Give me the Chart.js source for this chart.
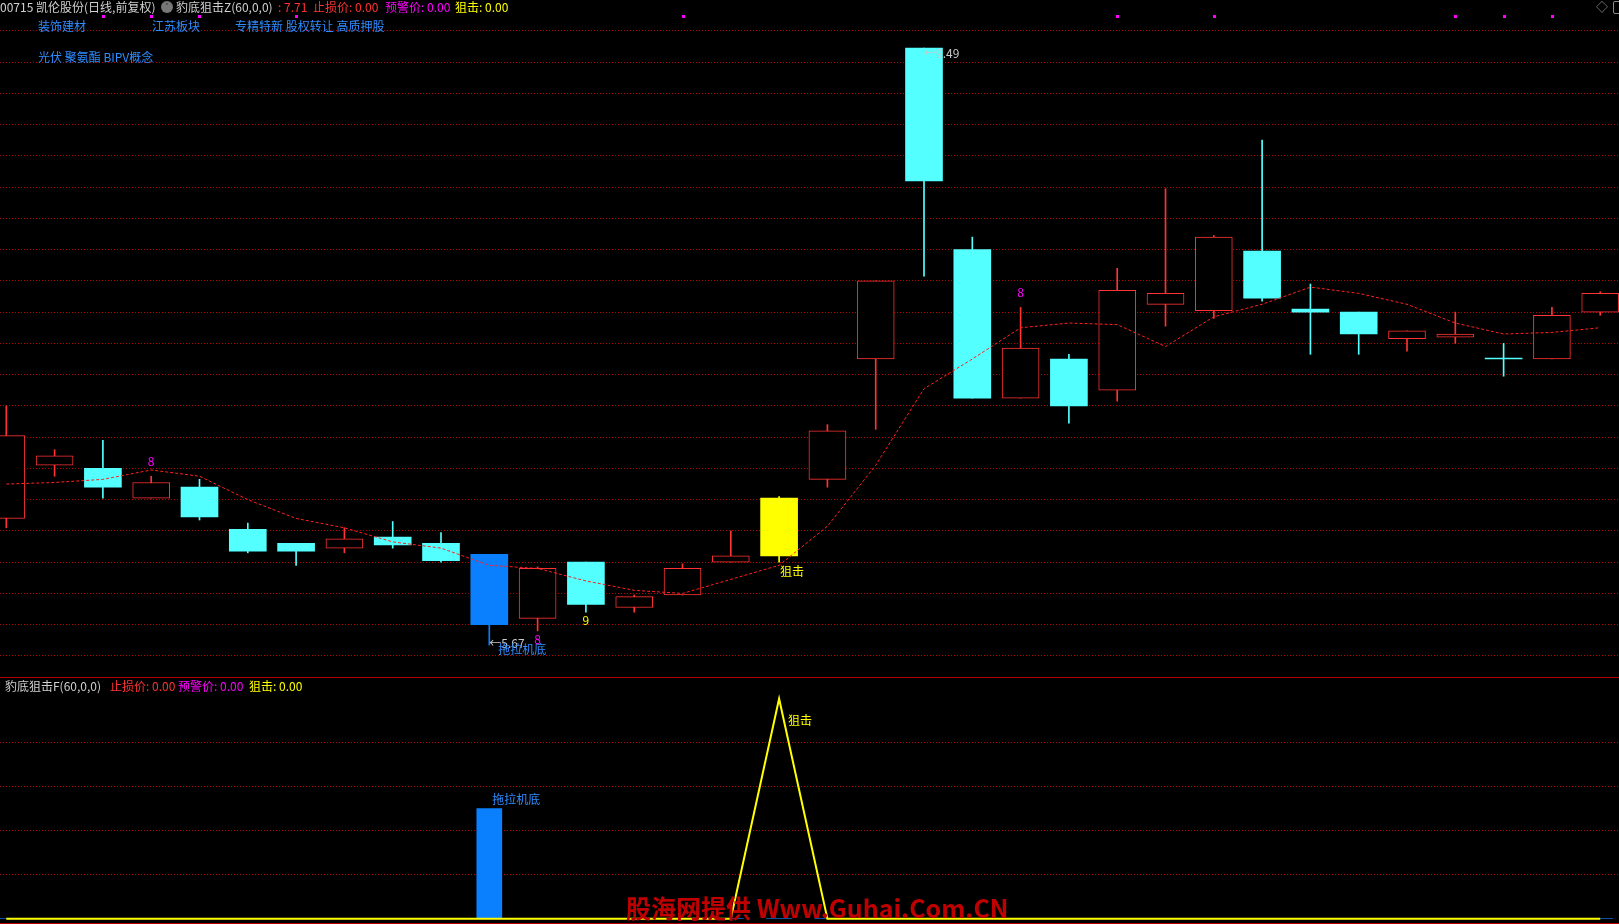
<!DOCTYPE html>
<html>
<head>
<meta charset="utf-8">
<title>凯伦股份 豹底狙击</title>
<script src="https://cdn.jsdelivr.net/npm/chart.js@4.4.0/dist/chart.umd.min.js"></script>
<style>
    html, body { margin: 0; padding: 0; background: #000; }
    body { width: 1619px; height: 924px; position: relative; overflow: hidden;
           font-family: "Noto Sans CJK SC", "Noto Sans", sans-serif; font-size: 12px; }
    canvas { position: absolute; left: 0; }
    #main { top: 0; }
    #sub { top: 679px; }
    .t { position: absolute; white-space: nowrap; line-height: 14px; }
    .sep { position: absolute; left: 0; width: 1619px; height: 1px; background: #b40000; }
    .grey { color: #d0d0d0; }
    .red { color: #ff3232; }
    .mag { color: #ff00ff; }
    .yel { color: #ffff00; }
    .blue { color: #2f8cff; }
</style>
</head>
<body>
<canvas id="main" width="1619" height="678"></canvas>
<canvas id="sub" width="1619" height="245"></canvas>
<div class="sep" style="top:677px"></div>
<div class="sep" style="top:923px"></div>

<!-- header of the price panel -->
<span class="t grey" style="left:0;top:0">00715 凯伦股份(日线,前复权)</span>
<span class="t" style="left:161px;top:1px;width:12px;height:12px;border-radius:6px;background:#777;color:#111;font-size:9px;line-height:12px;text-align:center">˅</span>
<span class="t grey" style="left:176px;top:0">豹底狙击Z(60,0,0)</span>
<span class="t red" style="left:278px;top:0">: 7.71</span>
<span class="t red" style="left:313px;top:0">止损价: 0.00</span>
<span class="t mag" style="left:385px;top:0">预警价: 0.00</span>
<span class="t yel" style="left:455px;top:0">狙击: 0.00</span>
<span class="t blue" style="left:38px;top:19px">装饰建材</span>
<span class="t blue" style="left:152px;top:19px">江苏板块</span>
<span class="t blue" style="left:235px;top:19px">专精特新 股权转让 高质押股</span>
<span class="t blue" style="left:38px;top:50px">光伏 聚氨酯 BIPV概念</span>
<span class="t" style="left:1596px;top:0;color:#8a8a8a">◇</span>
<span class="t" style="left:1613px;top:1px;width:10px;height:11px;border:1px solid #8a8a8a;border-radius:2px"></span>

<!-- header of the indicator panel -->
<span class="t grey" style="left:5px;top:679px">豹底狙击F(60,0,0)</span>
<span class="t red" style="left:110px;top:679px">止损价: 0.00</span>
<span class="t mag" style="left:178px;top:679px">预警价: 0.00</span>
<span class="t yel" style="left:249px;top:679px">狙击: 0.00</span>

<span class="t" style="left:626px;top:893px;color:#c00000;font-size:25px;line-height:28px;font-weight:bold">股海网提供 Www.Guhai.Com.CN</span>

<script>
// daily candles, oldest first
const opens  = [6.48, 6.82, 6.80, 6.61, 6.68, 6.41, 6.32, 6.29, 6.36, 6.32,
                6.25, 5.84, 6.20, 5.91, 5.99, 6.20, 6.24, 6.73, 7.50, 9.49,
                8.20, 7.25, 7.50, 7.30, 7.85, 7.81, 8.19, 7.82, 7.80, 7.63,
                7.64, 7.50, 7.50, 7.80];
const highs  = [7.20, 6.92, 6.98, 6.75, 6.73, 6.45, 6.32, 6.42, 6.46, 6.39,
                6.25, 6.17, 6.20, 5.99, 6.19, 6.40, 6.62, 7.08, 8.00, 9.49,
                8.28, 7.83, 7.53, 8.08, 8.59, 8.29, 8.90, 7.98, 7.80, 7.68,
                7.80, 7.60, 7.83, 7.93];
const lows   = [6.42, 6.75, 6.61, 6.61, 6.47, 6.26, 6.18, 6.26, 6.29, 6.20,
                5.67, 5.76, 5.88, 5.88, 5.99, 6.20, 6.20, 6.68, 7.05, 8.03,
                7.25, 7.25, 7.09, 7.23, 7.71, 7.76, 7.87, 7.53, 7.53, 7.55,
                7.60, 7.39, 7.50, 7.78];
const closes = [7.01, 6.88, 6.68, 6.71, 6.49, 6.27, 6.27, 6.35, 6.31, 6.21,
                5.80, 6.16, 5.93, 5.98, 6.16, 6.24, 6.61, 7.04, 8.00, 8.64,
                7.25, 7.57, 7.20, 7.94, 7.92, 8.28, 7.89, 7.80, 7.66, 7.68,
                7.66, 7.50, 7.78, 7.92];
// red dashed average line
const maLine = [6.70, 6.71, 6.73, 6.79, 6.75, 6.60, 6.48, 6.42, 6.33, 6.29,
                6.18, 6.16, 6.08, 6.02, 6.00, 6.09, 6.18, 6.43, 6.82, 7.31,
                7.50, 7.70, 7.73, 7.72, 7.58, 7.77, 7.85, 7.96, 7.92, 7.85,
                7.73, 7.66, 7.67, 7.70];
// price grid levels
const priceGrid = [5.6, 5.8, 6.0, 6.2, 6.4, 6.6, 6.8, 7.0, 7.2, 7.4, 7.6,
                   7.8, 8.0, 8.2, 8.4, 8.6, 8.8, 9.0, 9.2, 9.4, 9.6];

// signal days
const tractorDay = 10;   // 拖拉机底 (blue candle)
const snipeDay = 16;     // 狙击 (yellow candle)
const signalLabels = [
    { i: 3,  text: '8', kind: 'countUp' },
    { i: 21, text: '8', kind: 'countUp' },
    { i: 11, text: '8', kind: 'countDown' },
    { i: 12, text: '9', kind: 'nine' },
];
const eventDays = [2, 3, 4, 6, 14, 23, 25, 30, 31, 32];

// lower panel
const snipeLine = [0, 0, 0, 0, 0, 0, 0, 0, 0, 0, 0, 0, 0, 0, 0, 0, 100, 0, 0, 0,
                   0, 0, 0, 0, 0, 0, 0, 0, 0, 0, 0, 0, 0, 0];
const tractorBar = [0, 0, 0, 0, 0, 0, 0, 0, 0, 0, 50, 0, 0, 0, 0, 0, 0, 0, 0, 0,
                    0, 0, 0, 0, 0, 0, 0, 0, 0, 0, 0, 0, 0, 0];
const subGrid = [20, 40, 60, 80];

const RED = '#ff3333', CYAN = '#54ffff', BLUE = '#0a80ff', YELLOW = '#ffff00';
const GRID = '#b80000';
const FONT = '12px "Noto Sans CJK SC", sans-serif';

const idx = opens.map((_, i) => i);

// up day = hollow red, flat or down day = solid cyan
function candleColor(i) {
    if (i === tractorDay) return BLUE;
    if (i === snipeDay) return YELLOW;
    return closes[i] > opens[i] ? RED : CYAN;
}
const isHollow = i => i !== tractorDay && i !== snipeDay && closes[i] > opens[i];

// shared x axis: candle index, hidden, no bar offset
const xAxis = { type: 'linear', min: -0.1304, max: 33.389, offset: false, display: false };

function gridAxis(min, max, levels) {
    return {
        min: min, max: max,
        afterBuildTicks: s => { s.ticks = levels.map(v => ({ value: v })); },
        afterFit: s => { s.width = 0; },
        ticks: { display: false },
        grid: { color: GRID, lineWidth: 1, drawTicks: false },
        border: { display: false, dash: [1, 2] },
    };
}

// text marks drawn next to the candles
const priceMarks = {
    id: 'priceMarks',
    afterDatasetsDraw(chart) {
        const { ctx, scales: { x, y } } = chart;
        ctx.save();
        ctx.font = FONT;
        ctx.textBaseline = 'middle';

        // event squares along the top
        ctx.fillStyle = '#ff00ff';
        eventDays.forEach(i => {
            ctx.fillRect(Math.round(x.getPixelForValue(i)) - 1, 15, 3, 3);
        });

        ctx.textAlign = 'center';
        signalLabels.forEach(s => {
            const px = x.getPixelForValue(s.i);
            if (s.kind === 'countUp') {
                ctx.fillStyle = '#ff00ff';
                ctx.fillText(s.text, px, y.getPixelForValue(highs[s.i]) - 15);
            } else if (s.kind === 'countDown') {
                ctx.fillStyle = '#ff00ff';
                ctx.fillText(s.text, px, y.getPixelForValue(lows[s.i]) + 8);
            } else {
                ctx.fillStyle = YELLOW;
                ctx.fillText(s.text, px, y.getPixelForValue(lows[s.i]) + 8);
            }
        });

        ctx.textAlign = 'left';
        ctx.fillStyle = YELLOW;
        ctx.fillText('狙击', x.getPixelForValue(snipeDay) + 1, y.getPixelForValue(lows[snipeDay]) + 9);

        // highest / lowest price
        const hi = highs.indexOf(Math.max(...highs));
        const lo = lows.indexOf(Math.min(...lows));
        ctx.fillStyle = '#c8c8c8';
        ctx.fillText('←' + highs[hi].toFixed(2), x.getPixelForValue(hi), y.getPixelForValue(highs[hi]) + 5);
        ctx.fillText('←' + lows[lo].toFixed(2), x.getPixelForValue(lo), y.getPixelForValue(lows[lo]) - 2);

        ctx.fillStyle = '#2f8cff';
        ctx.fillText('拖拉机底', x.getPixelForValue(tractorDay) + 9, y.getPixelForValue(lows[tractorDay]) + 4);
        ctx.restore();
    }
};

new Chart(document.getElementById('main'), {
    type: 'bar',
    data: {
        datasets: [
            {
                type: 'line',
                data: idx.map(i => ({ x: i, y: maLine[i] })),
                borderColor: '#ff2020',
                borderWidth: 1,
                borderDash: [3, 2],
                pointRadius: 0,
                tension: 0,
                order: 0,
            },
            {
                // candle bodies
                data: idx.map(i => ({ x: i, y: [opens[i], closes[i]] })),
                backgroundColor: idx.map(i => isHollow(i) ? '#000' : candleColor(i)),
                borderColor: idx.map(i => candleColor(i)),
                borderWidth: idx.map(i => isHollow(i) ? 1 : 0),
                borderSkipped: false,
                barThickness: 37,
                minBarLength: 1,
                grouped: false,
                order: 1,
            },
            {
                // wicks
                data: idx.map(i => ({ x: i, y: [lows[i], highs[i]] })),
                backgroundColor: idx.map(i => candleColor(i)),
                borderWidth: 0,
                barThickness: 1,
                grouped: false,
                order: 2,
            },
        ]
    },
    options: {
        responsive: false,
        animation: false,
        devicePixelRatio: 1,
        layout: { padding: 0 },
        plugins: { legend: { display: false }, tooltip: { enabled: false } },
        scales: { x: xAxis, y: gridAxis(5.459, 9.797, priceGrid) },
    },
    plugins: [priceMarks],
});

const subMarks = {
    id: 'subMarks',
    afterDatasetsDraw(chart) {
        const { ctx, scales: { x, y } } = chart;
        ctx.save();
        ctx.font = FONT;
        ctx.textBaseline = 'middle';
        ctx.textAlign = 'left';
        ctx.fillStyle = '#2f8cff';
        ctx.fillText('拖拉机底', x.getPixelForValue(tractorDay) + 3, y.getPixelForValue(tractorBar[tractorDay]) - 9);
        ctx.fillStyle = YELLOW;
        ctx.fillText('狙击', x.getPixelForValue(snipeDay) + 9, y.getPixelForValue(snipeLine[snipeDay]) + 22);
        ctx.restore();
    }
};

new Chart(document.getElementById('sub'), {
    type: 'bar',
    data: {
        datasets: [
            {
                type: 'line',
                data: idx.map(i => ({ x: i, y: snipeLine[i] })),
                borderColor: YELLOW,
                borderWidth: 2,
                pointRadius: 0,
                tension: 0,
                order: 0,
            },
            {
                data: idx.map(i => ({ x: i, y: tractorBar[i] })),
                backgroundColor: BLUE,
                barThickness: 25,
                grouped: false,
                order: 1,
            },
        ]
    },
    options: {
        responsive: false,
        animation: false,
        devicePixelRatio: 1,
        layout: { padding: 0 },
        plugins: { legend: { display: false }, tooltip: { enabled: false } },
        scales: { x: xAxis, y: gridAxis(-2.41, 108.95, subGrid) },
    },
    plugins: [subMarks],
});
</script>
</body>
</html>
